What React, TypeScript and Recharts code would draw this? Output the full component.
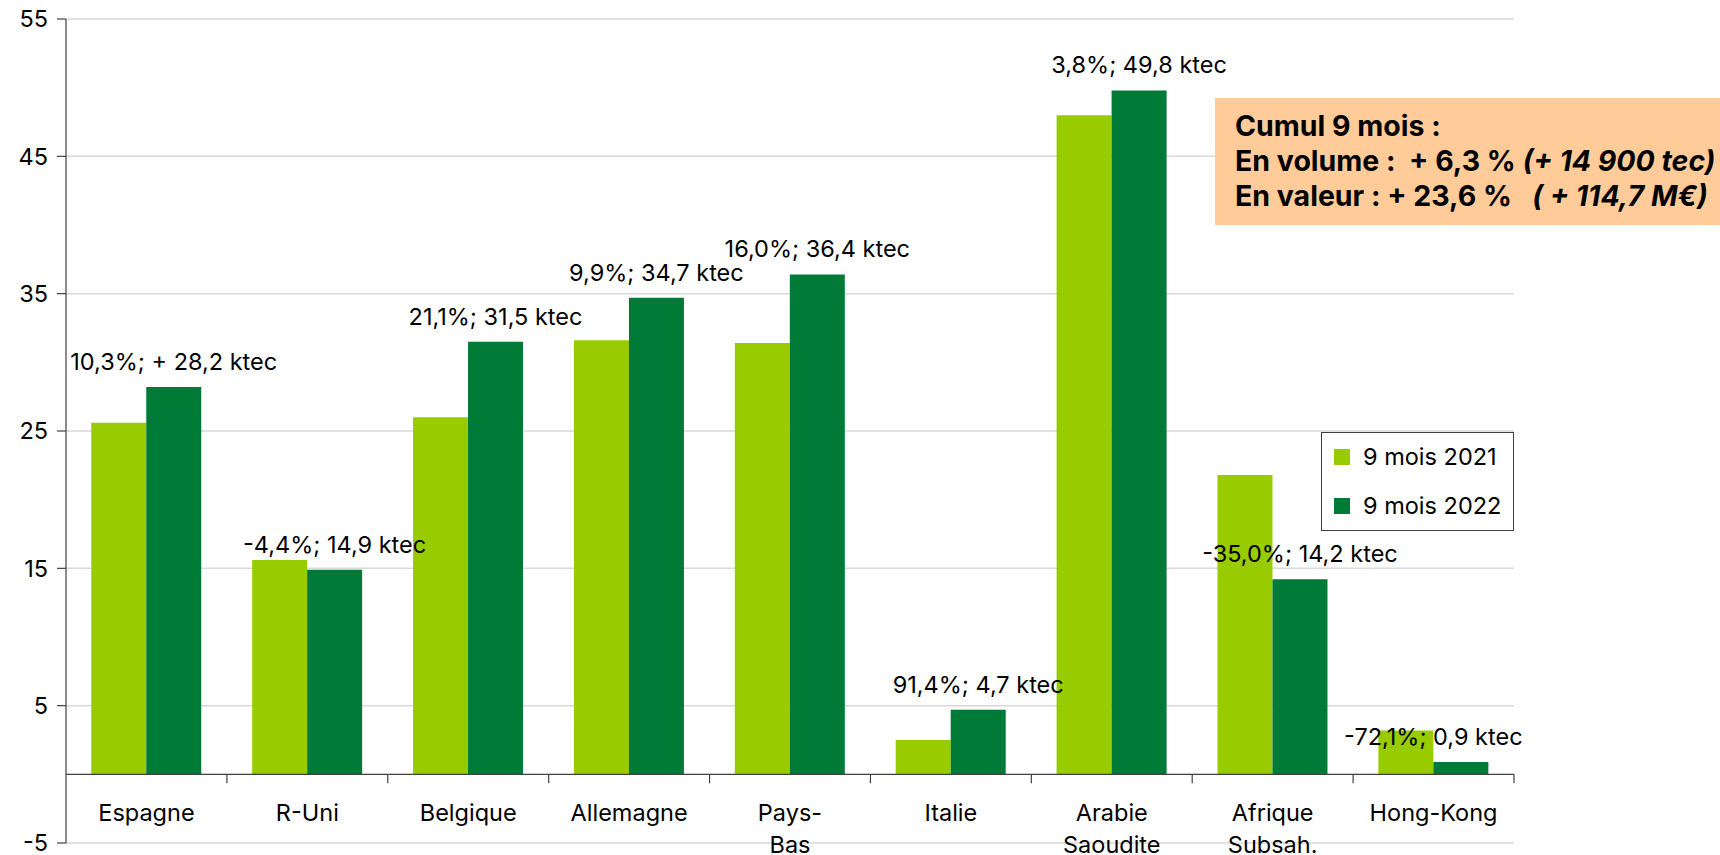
import React from 'react';
import { BarChart, Bar, XAxis, YAxis, CartesianGrid, ReferenceLine, LabelList } from 'recharts';

const categories = ['Espagne', 'R-Uni', 'Belgique', 'Allemagne', 'Pays-\nBas', 'Italie', 'Arabie\nSaoudite', 'Afrique\nSubsah.', 'Hong-Kong'];
const values2021 = [25.6, 15.6, 26.0, 31.6, 31.4, 2.5, 48.0, 21.8, 3.2];
const values2022 = [28.2, 14.9, 31.5, 34.7, 36.4, 4.7, 49.8, 14.2, 0.9];
const changeLabels = [
  '10,3%; + 28,2 ktec',
  '-4,4%; 14,9 ktec',
  '21,1%; 31,5 ktec',
  '9,9%; 34,7 ktec',
  '16,0%; 36,4 ktec',
  '91,4%; 4,7 ktec',
  '3,8%; 49,8 ktec',
  '-35,0%; 14,2 ktec',
  '-72,1%; 0,9 ktec',
];
const yTicks = [-5, 5, 15, 25, 35, 45, 55];
const seriesNames = ['9 mois 2021', '9 mois 2022'];
const seriesColors = ['#99CC00', '#007A37'];
const summaryTitle = 'Cumul 9 mois :';
const summaryVolume = ['En volume :  + 6,3 % ', '(+ 14 900 tec)'];
const summaryValue = ['En valeur : + 23,6 %   ', '( + 114,7 M€)'];

const data = categories.map((name, i) => ({
  name,
  v2021: values2021[i],
  v2022: values2022[i],
  label: changeLabels[i],
}));

const FONT = 'Inter, "DejaVu Sans", sans-serif';
const W = 1720;
const H = 855;
const PLOT_LEFT = 66;
const PLOT_RIGHT = 1514;
const PLOT_TOP = 19;
const PLOT_BOTTOM = 843;
const X_AXIS_H = 12;
const Y_MIN = -5;
const Y_MAX = 55;
const PLOT_H = PLOT_BOTTOM - PLOT_TOP;
const PLOT_W = PLOT_RIGHT - PLOT_LEFT;
const ZERO_Y = PLOT_TOP + ((Y_MAX - 0) / (Y_MAX - Y_MIN)) * PLOT_H;
const BAND = PLOT_W / categories.length;
const FS = 23.5;

const CategoryTick = (props: any) => {
  const { x, payload } = props;
  const lines = String(payload.value).split('\n');
  return (
    <g>
      <line x1={x + BAND / 2} x2={x + BAND / 2} y1={ZERO_Y} y2={ZERO_Y + 9} stroke="#404040" strokeWidth={1.2} />
      <text x={x} y={ZERO_Y + 47} textAnchor="middle" fontSize={FS} fill="#000" fontFamily={FONT}>
        {lines.map((l, i) => (
          <tspan key={i} x={x} dy={i === 0 ? 0 : 32}>
            {l}
          </tspan>
        ))}
      </text>
    </g>
  );
};

const ChangeLabel = (props: any) => {
  const { x, y, width, value } = props;
  let cx = Number(x) + Number(width) / 2;
  if (cx + 88 > PLOT_RIGHT) cx = Number(x);
  return (
    <text x={cx} y={Number(y) - 17} textAnchor="middle" fontSize={FS} fill="#000" fontFamily={FONT}>
      {value}
    </text>
  );
};

const LegendBox = () => (
  <div
    style={{
      position: 'absolute',
      left: 1321,
      top: 432,
      width: 193,
      height: 99,
      boxSizing: 'border-box',
      border: '1.3px solid #404040',
      background: '#fff',
      fontFamily: FONT,
      fontSize: FS,
      color: '#000',
    }}
  >
    {seriesNames.map((n, i) => (
      <div key={n} style={{ position: 'absolute', left: 12, top: 12 + i * 49, height: 24, display: 'flex', alignItems: 'center' }}>
        <span style={{ display: 'inline-block', width: 16, height: 16, background: seriesColors[i], marginRight: 13 }} />
        <span style={{ lineHeight: '24px' }}>{n}</span>
      </div>
    ))}
  </div>
);

export default function App() {
  return (
    <div style={{ position: 'absolute', left: 0, top: 0, width: W, height: H, background: '#fff', overflow: 'hidden' }}>
      <BarChart
        width={W}
        height={H}
        data={data}
        margin={{ top: PLOT_TOP, right: W - PLOT_RIGHT, bottom: H - PLOT_BOTTOM - X_AXIS_H, left: 0 }}
        barCategoryGap="15.7%"
        barGap={0}
      >
        <CartesianGrid horizontal vertical={false} stroke="#D9D9D9" strokeWidth={1.5} />
        <XAxis
          dataKey="name"
          height={X_AXIS_H}
          axisLine={false}
          tickLine={false}
          interval={0}
          tick={<CategoryTick />}
          tickSize={0}
          tickMargin={0}
        />
        <YAxis
          width={PLOT_LEFT}
          domain={[Y_MIN, Y_MAX]}
          ticks={yTicks}
          interval={0}
          axisLine={{ stroke: '#404040', strokeWidth: 1.2 }}
          tickLine={{ stroke: '#404040', strokeWidth: 1.2 }}
          tickSize={9}
          tickMargin={9}
          tick={{ fontSize: FS, fill: '#000', fontFamily: FONT }}
        />
        <Bar dataKey="v2021" name={seriesNames[0]} fill={seriesColors[0]} isAnimationActive={false} />
        <Bar dataKey="v2022" name={seriesNames[1]} fill={seriesColors[1]} isAnimationActive={false}>
          <LabelList dataKey="label" content={<ChangeLabel />} />
        </Bar>
        <ReferenceLine y={0} stroke="#404040" strokeWidth={1.2} ifOverflow="visible" />
      </BarChart>
      <LegendBox />
      <div
        style={{
          position: 'absolute',
          left: 1215,
          top: 98,
          width: W - 1215,
          height: 127,
          background: '#FFCC99',
          boxSizing: 'border-box',
          paddingLeft: 20,
          paddingTop: 10,
          fontFamily: FONT,
          fontWeight: 700,
          fontSize: 28.5,
          lineHeight: '35px',
          color: '#000',
          whiteSpace: 'pre',
        }}
      >
        <div>{summaryTitle}</div>
        <div>
          {summaryVolume[0]}
          <i>{summaryVolume[1]}</i>
        </div>
        <div>
          {summaryValue[0]}
          <i>{summaryValue[1]}</i>
        </div>
      </div>
    </div>
  );
}
